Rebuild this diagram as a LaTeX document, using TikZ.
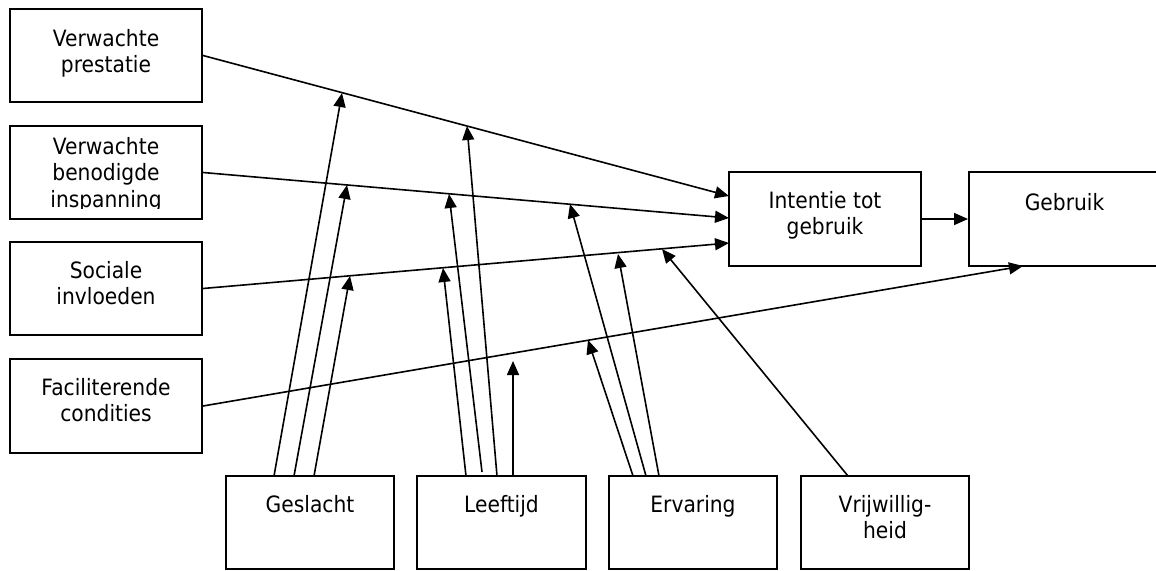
\documentclass[tikz,border=0pt]{standalone}
\usepackage{fontspec}
\setmainfont{DejaVu Sans}[FakeStretch=0.9]
\usetikzlibrary{arrows.meta}
\begin{document}
\begin{tikzpicture}[x=1pt,y=-1pt,
  box/.style={draw, line width=2pt, rectangle, inner sep=0pt, minimum height=93pt},
  txt/.style={anchor=north, inner sep=0pt, align=center, font=\fontsize{22.5}{26.5}\selectfont},
  conn/.style={line width=1.6pt, -{Triangle[length=14pt,width=12pt]}}]
\useasboundingbox (0,0) rectangle (1156,570);
% boxes
\node[box, minimum width=192pt] (vp) at (106,55.5) {};
\node[box, minimum width=192pt] (vb) at (106,172.5) {};
\node[box, minimum width=192pt] (si) at (106,288.5) {};
\node[box, minimum width=192pt, minimum height=94pt] (fc) at (106,406) {};
\node[box, minimum width=192pt, minimum height=94pt] (int) at (825,219) {};
\node[box, minimum width=191pt, minimum height=94pt] (geb) at (1064.5,219) {};
\node[box, minimum width=168pt] (ges) at (310,522.5) {};
\node[box, minimum width=169pt] (lft) at (501.5,522.5) {};
\node[box, minimum width=168pt] (erv) at (693,522.5) {};
\node[box, minimum width=168pt] (vrij) at (885,522.5) {};
% texts
\node[txt] (tvp) at (106,28.9) {Verwachte\\prestatie};
\begin{scope}
\clip (10,126) rectangle (202,208);
\node[txt] (tvb) at (106,136.9) {Verwachte\\benodigde\\inspanning};
\end{scope}
\node[txt] (tsi) at (106,260.9) {Sociale\\invloeden};
\node[txt] (tfc) at (106,377.9) {Faciliterende\\condities};
\node[txt] (tint) at (825,190.9) {Intentie tot\\gebruik};
\node[txt] (tgeb) at (1064.5,192.9) {Gebruik};
\node[txt] (tges) at (310,494.9) {Geslacht};
\node[txt] (tlft) at (501.5,494.9) {Leeftijd};
\node[txt] (terv) at (693,494.9) {Ervaring};
\node[txt] (tvrij) at (885,494.9) {Vrijwillig-\\heid};
% main connector end points
\coordinate (i1) at (729,196);
\coordinate (i2) at (729,218);
\coordinate (i3) at (729,243);
\coordinate (g4) at (1023,266);
\draw[conn] (vp.east) -- (i1);
\draw[conn] (vb.east) -- (i2);
\draw[conn] (si.east) -- (i3);
\draw[conn] (fc.east) -- (g4);
\draw[conn] (int.east) -- (geb.west);
% moderator start points and tips
\coordinate (gs1) at (274,476); \coordinate (gt1) at (342,93);
\coordinate (gs2) at (294,476); \coordinate (gt2) at (347,185);
\coordinate (gs3) at (314,476); \coordinate (gt3) at (350,276);
\coordinate (ls1) at (466,476); \coordinate (lt1) at (443,268);
\coordinate (ls2) at (482,472); \coordinate (lt2) at (449,194);
\coordinate (ls3) at (497,476); \coordinate (lt3) at (467,126);
\coordinate (ls4) at (513,476); \coordinate (lt4) at (513,361);
\coordinate (es1) at (633,476); \coordinate (et1) at (588,340);
\coordinate (es2) at (646,476); \coordinate (et2) at (570,204);
\coordinate (es3) at (659,476); \coordinate (et3) at (618,254);
\coordinate (vs1) at (848,476); \coordinate (vt1) at (662,249);
\draw[conn] (gs1) -- (gt1);
\draw[conn] (gs2) -- (gt2);
\draw[conn] (gs3) -- (gt3);
\draw[conn] (ls1) -- (lt1);
\draw[conn] (ls2) -- (lt2);
\draw[conn] (ls3) -- (lt3);
\draw[conn] (ls4) -- (lt4);
\draw[conn] (es1) -- (et1);
\draw[conn] (es2) -- (et2);
\draw[conn] (es3) -- (et3);
\draw[conn] (vs1) -- (vt1);
\end{tikzpicture}
\end{document}
